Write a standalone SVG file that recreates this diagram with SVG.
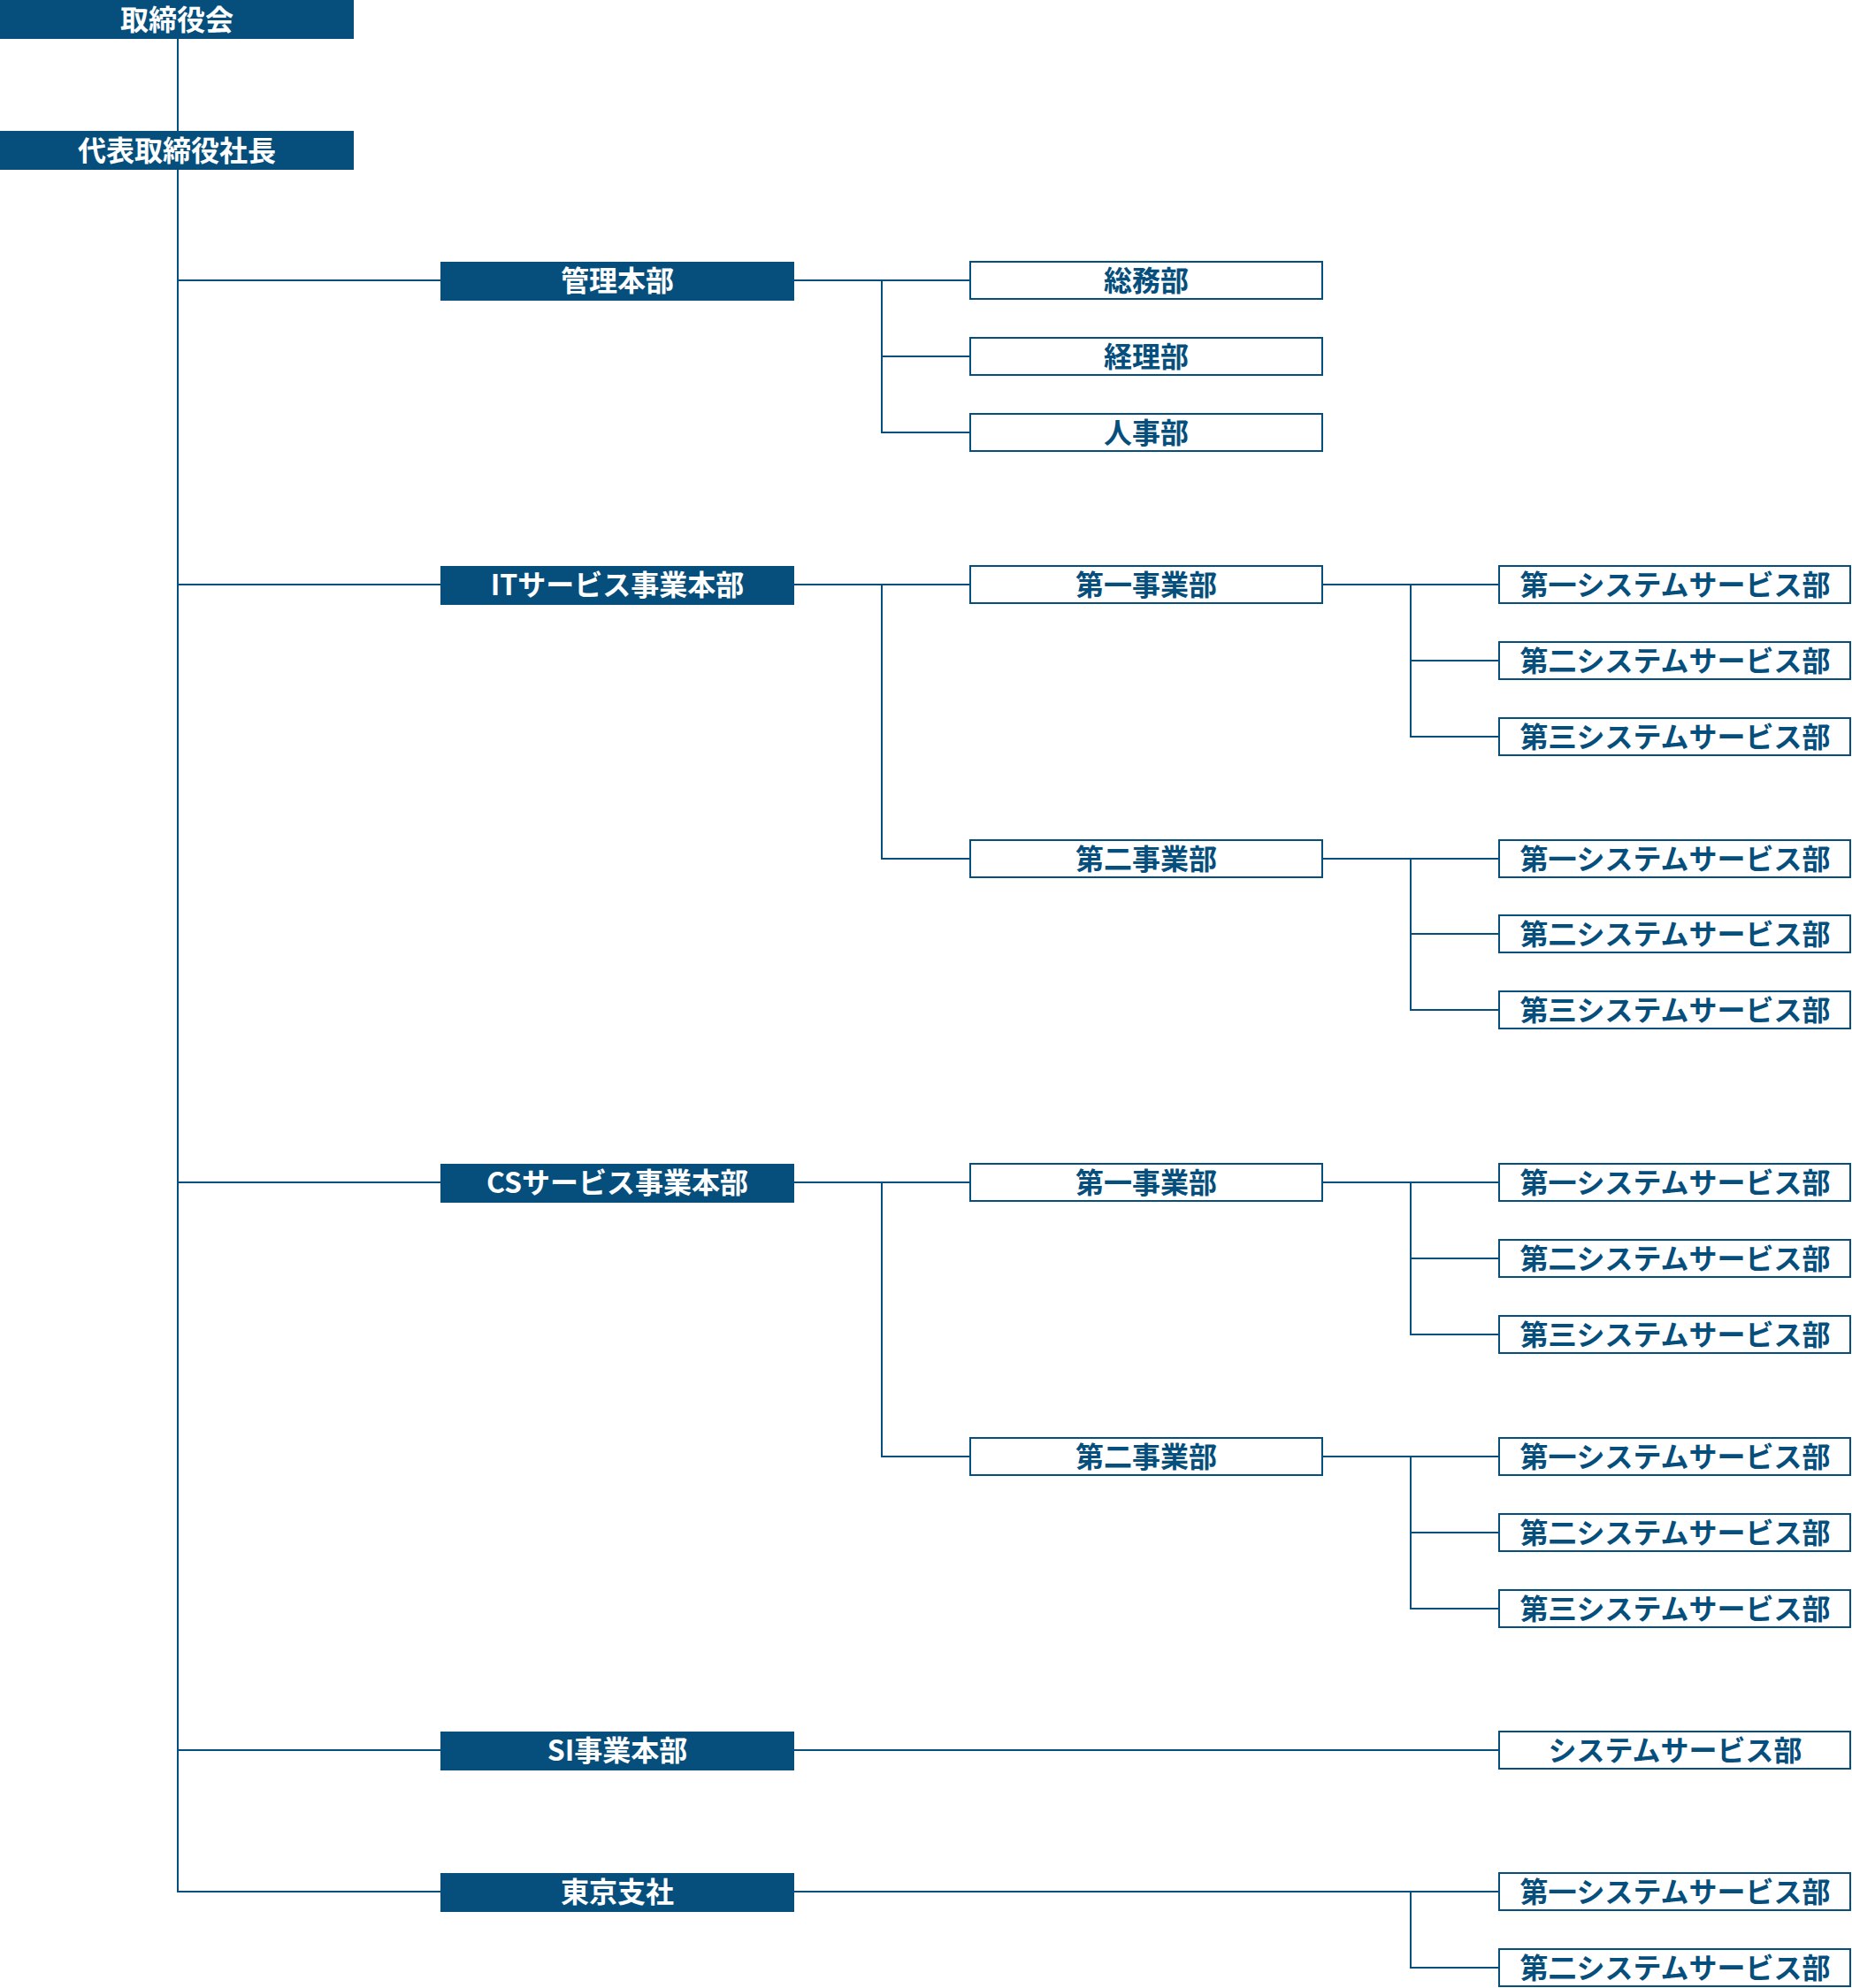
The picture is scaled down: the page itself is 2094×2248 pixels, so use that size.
<svg xmlns="http://www.w3.org/2000/svg" width="2094" height="2248" viewBox="0 0 2094 2248">
<style>
.fill rect{fill:#064f7c}
.fill text{fill:#ffffff}
.out rect{fill:#ffffff;stroke:#064f7c;stroke-width:2}
.out text{fill:#064f7c}
text{font-family:"Noto Sans CJK JP","Noto Sans",sans-serif;font-weight:700;font-size:32px;text-anchor:middle}
#connectors path{fill:none;stroke:#064f7c;stroke-width:2}
</style>
<rect width="2094" height="2248" fill="#ffffff"/>
<g id="connectors">
<path d="M201 44V148"/>
<path d="M201 192V2139H498"/>
<path d="M201 317H498M201 661H498M201 1337H498M201 1979H498"/>
<path d="M898 317H1096M997 317V489H1096M997 403H1096"/>
<path d="M898 661H1096M997 661V971H1096"/>
<path d="M1496 661H1694M1595 661V833H1694M1595 747H1694"/>
<path d="M1496 971H1694M1595 971V1142H1694M1595 1056H1694"/>
<path d="M898 1337H1096M997 1337V1647H1096"/>
<path d="M1496 1337H1694M1595 1337V1509H1694M1595 1423H1694"/>
<path d="M1496 1647H1694M1595 1647V1819H1694M1595 1733H1694"/>
<path d="M898 1979H1694"/>
<path d="M898 2139H1694M1595 2139V2225H1694"/>
</g>
<g id="n-board" class="fill"><rect x="0" y="0" width="400" height="44"/><text x="200" y="34">取締役会</text></g>
<g id="n-president" class="fill"><rect x="0" y="148" width="400" height="44"/><text x="200" y="182">代表取締役社長</text></g>
<g id="n-kanri" class="fill"><rect x="498" y="296" width="400" height="44"/><text x="698" y="329">管理本部</text></g>
<g id="n-it" class="fill"><rect x="498" y="640" width="400" height="44"/><text x="698" y="673">ITサービス事業本部</text></g>
<g id="n-cs" class="fill"><rect x="498" y="1316" width="400" height="44"/><text x="698" y="1349">CSサービス事業本部</text></g>
<g id="n-si" class="fill"><rect x="498" y="1958" width="400" height="44"/><text x="698" y="1991">SI事業本部</text></g>
<g id="n-tokyo" class="fill"><rect x="498" y="2118" width="400" height="44"/><text x="698" y="2151">東京支社</text></g>
<g id="n-somu" class="out"><rect x="1097" y="296" width="398" height="42"/><text x="1296" y="329">総務部</text></g>
<g id="n-keiri" class="out"><rect x="1097" y="382" width="398" height="42"/><text x="1296" y="415">経理部</text></g>
<g id="n-jinji" class="out"><rect x="1097" y="468" width="398" height="42"/><text x="1296" y="501">人事部</text></g>
<g id="n-it1" class="out"><rect x="1097" y="640" width="398" height="42"/><text x="1296" y="673">第一事業部</text></g>
<g id="n-it2" class="out"><rect x="1097" y="950" width="398" height="42"/><text x="1296" y="983">第二事業部</text></g>
<g id="n-cs1" class="out"><rect x="1097" y="1316" width="398" height="42"/><text x="1296" y="1349">第一事業部</text></g>
<g id="n-cs2" class="out"><rect x="1097" y="1626" width="398" height="42"/><text x="1296" y="1659">第二事業部</text></g>
<g id="n-it1-1" class="out"><rect x="1695" y="640" width="397" height="42"/><text x="1894" y="673">第一システムサービス部</text></g>
<g id="n-it1-2" class="out"><rect x="1695" y="726" width="397" height="42"/><text x="1894" y="759">第二システムサービス部</text></g>
<g id="n-it1-3" class="out"><rect x="1695" y="812" width="397" height="42"/><text x="1894" y="845">第三システムサービス部</text></g>
<g id="n-it2-1" class="out"><rect x="1695" y="950" width="397" height="42"/><text x="1894" y="983">第一システムサービス部</text></g>
<g id="n-it2-2" class="out"><rect x="1695" y="1035" width="397" height="42"/><text x="1894" y="1068">第二システムサービス部</text></g>
<g id="n-it2-3" class="out"><rect x="1695" y="1121" width="397" height="42"/><text x="1894" y="1154">第三システムサービス部</text></g>
<g id="n-cs1-1" class="out"><rect x="1695" y="1316" width="397" height="42"/><text x="1894" y="1349">第一システムサービス部</text></g>
<g id="n-cs1-2" class="out"><rect x="1695" y="1402" width="397" height="42"/><text x="1894" y="1435">第二システムサービス部</text></g>
<g id="n-cs1-3" class="out"><rect x="1695" y="1488" width="397" height="42"/><text x="1894" y="1521">第三システムサービス部</text></g>
<g id="n-cs2-1" class="out"><rect x="1695" y="1626" width="397" height="42"/><text x="1894" y="1659">第一システムサービス部</text></g>
<g id="n-cs2-2" class="out"><rect x="1695" y="1712" width="397" height="42"/><text x="1894" y="1745">第二システムサービス部</text></g>
<g id="n-cs2-3" class="out"><rect x="1695" y="1798" width="397" height="42"/><text x="1894" y="1831">第三システムサービス部</text></g>
<g id="n-si-1" class="out"><rect x="1695" y="1958" width="397" height="42"/><text x="1894" y="1991">システムサービス部</text></g>
<g id="n-tk-1" class="out"><rect x="1695" y="2118" width="397" height="42"/><text x="1894" y="2151">第一システムサービス部</text></g>
<g id="n-tk-2" class="out"><rect x="1695" y="2204" width="397" height="42"/><text x="1894" y="2237">第二システムサービス部</text></g>
</svg>
